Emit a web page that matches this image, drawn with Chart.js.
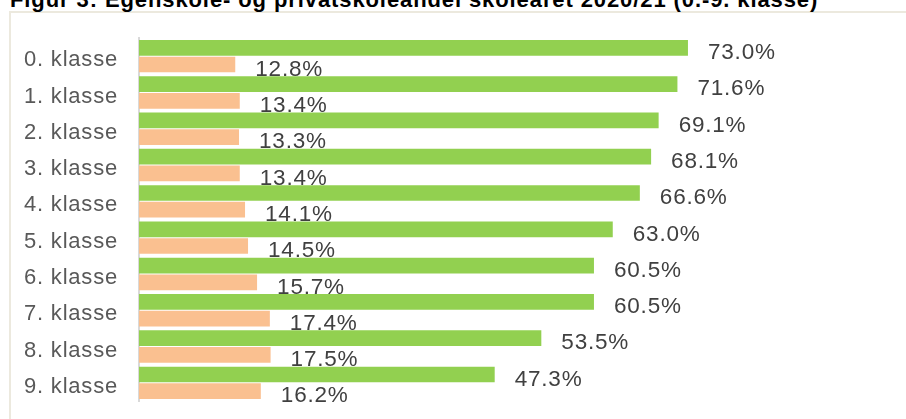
<!DOCTYPE html>
<html>
<head>
<meta charset="utf-8">
<script src="https://cdn.jsdelivr.net/npm/chart.js@4/dist/chart.umd.min.js"></script>
<style>
  html, body { margin: 0; padding: 0; background: #ffffff; overflow: hidden; }
  #wrap { position: relative; width: 906px; height: 419px; overflow: hidden; }
  #frame { position: absolute; left: 9px; top: 11px; width: 1200px; height: 1200px;
           border-left: 2px solid #ece9de; border-top: 2px solid #ece9de; }
  #title { position: absolute; left: 10px; top: -11px; white-space: nowrap;
           font-family: "Liberation Sans", Arial, sans-serif; font-weight: bold;
           font-size: 22px; line-height: 22px; letter-spacing: 0.9px; color: #000; }
  #c { position: absolute; left: 0; top: 0; }
</style>
</head>
<body>
<div id="wrap">
  <div id="frame"></div>
  <div id="title">Figur 3: Egenskole- og privatskoleandel skoleåret 2020/21 (0.-9. klasse)</div>
  <canvas id="c" width="906" height="419"></canvas>
</div>
<script>
const categories = ["0. klasse", "1. klasse", "2. klasse", "3. klasse", "4. klasse",
                    "5. klasse", "6. klasse", "7. klasse", "8. klasse", "9. klasse"];
const egenskole = [73.0, 71.6, 69.1, 68.1, 66.6, 63.0, 60.5, 60.5, 53.5, 47.3];
const privatskole = [12.8, 13.4, 13.3, 13.4, 14.1, 14.5, 15.7, 17.4, 17.5, 16.2];
const seriesNames = ["Egenskole", "Privatskole"];

const FONT = '"Liberation Sans", Arial, sans-serif';

const spacingPlugin = {
  id: 'spacing',
  beforeDraw(chart) { chart.ctx.letterSpacing = '0.8px'; }
};

const valueLabels = {
  id: 'valueLabels',
  beforeDatasetsDraw(chart) {
    const ctx = chart.ctx;
    ctx.save();
    ctx.letterSpacing = '0.8px';
    ctx.font = '22.5px ' + FONT;
    ctx.fillStyle = '#404040';
    ctx.textAlign = 'left';
    ctx.textBaseline = 'middle';
    chart.data.datasets.forEach((ds, di) => {
      const meta = chart.getDatasetMeta(di);
      meta.data.forEach((el, i) => {
        const v = ds.data[i];
        ctx.fillText(v.toFixed(1) + '%', el.x + 20, el.y + 5);
      });
    });
    ctx.restore();
  }
};

new Chart(document.getElementById('c'), {
  type: 'bar',
  data: {
    labels: categories,
    datasets: [
      { label: seriesNames[0], data: egenskole, backgroundColor: '#92D050',
        categoryPercentage: 0.92, barPercentage: 0.94 },
      { label: seriesNames[1], data: privatskole, backgroundColor: '#FAC090',
        categoryPercentage: 0.92, barPercentage: 0.94 }
    ]
  },
  options: {
    indexAxis: 'y',
    responsive: false,
    animation: false,
    events: [],
    layout: { padding: { left: 0, top: 38, bottom: 18, right: 15 } },
    plugins: { legend: { display: false }, tooltip: { enabled: false }, title: { display: false } },
    scales: {
      x: { display: false, min: 0, max: 100 },
      y: {
        afterFit(s) { s.width = 139; s.paddingTop = 0; s.paddingBottom = 0; },
        grid: { display: false, drawTicks: false },
        border: { display: true, color: '#d9d9d9', width: 2 },
        ticks: { padding: 21, labelOffset: 4, color: '#595959',
                 font: { family: FONT, size: 22 } }
      }
    }
  },
  plugins: [spacingPlugin, valueLabels]
});
</script>
</body>
</html>
